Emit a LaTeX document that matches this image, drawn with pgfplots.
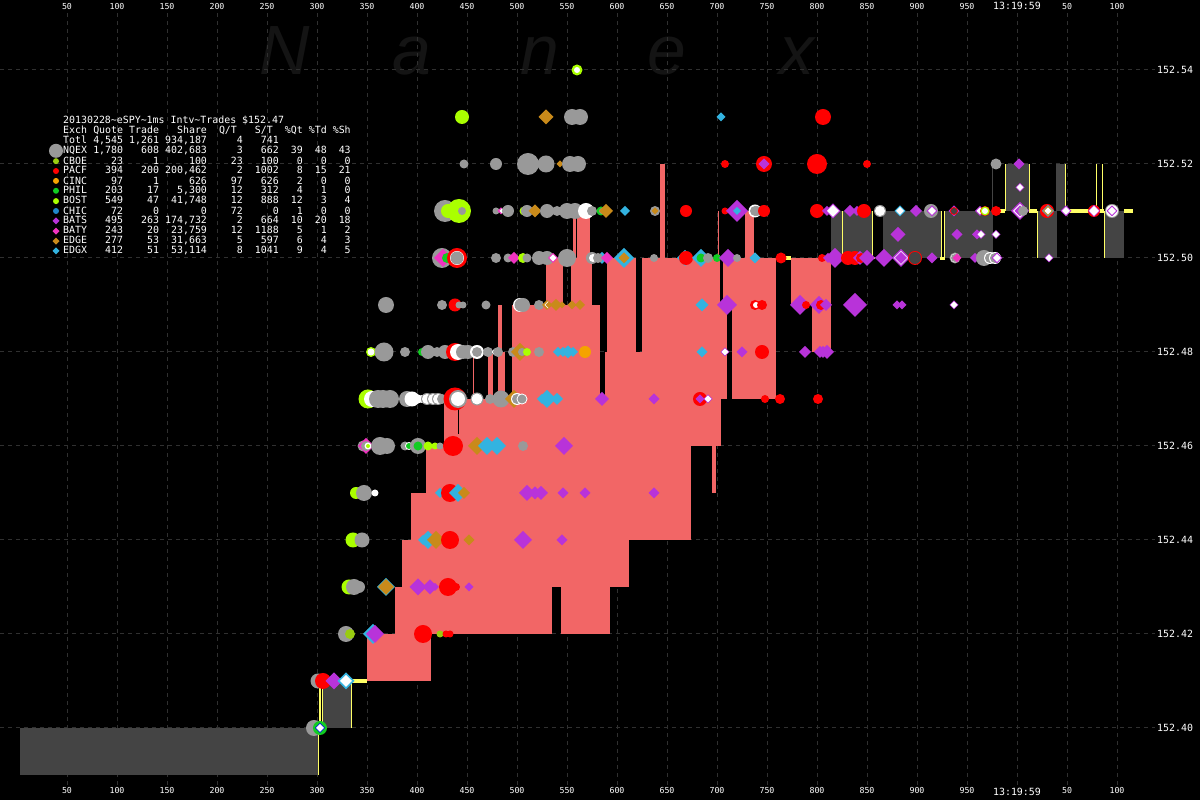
\documentclass[border=0pt]{standalone}
\usepackage{pgfplots}
\usepackage{fontspec}
\pgfplotsset{compat=1.18}
\setmainfont{DejaVu Sans Mono}
\newfontfamily\wm[ItalicFont={Liberation Sans Italic}]{Liberation Sans}
\definecolor{cgrid}{HTML}{303030}
\definecolor{cred}{HTML}{F26666}
\definecolor{cdark}{HTML}{444444}
\definecolor{cyel}{HTML}{FFFF66}
\definecolor{cwm}{HTML}{141414}
\definecolor{mgrey}{HTML}{999999}
\definecolor{mred}{HTML}{FF0000}
\definecolor{mlime}{HTML}{AAFF00}
\definecolor{mgreen}{HTML}{11CC22}
\definecolor{morange}{HTML}{F5A300}
\definecolor{molive}{HTML}{99CC11}
\definecolor{mblue}{HTML}{1F88CC}
\definecolor{mpurple}{HTML}{B833D9}
\definecolor{mmag}{HTML}{F033C0}
\definecolor{mbrown}{HTML}{C98A1A}
\definecolor{mcyan}{HTML}{33B3E0}
\pgfdeclareplotmark{dia}{\pgfpathmoveto{\pgfqpoint{0pt}{\pgfplotmarksize}}\pgfpathlineto{\pgfqpoint{\pgfplotmarksize}{0pt}}\pgfpathlineto{\pgfqpoint{0pt}{-\pgfplotmarksize}}\pgfpathlineto{\pgfqpoint{-\pgfplotmarksize}{0pt}}\pgfpathclose\pgfusepathqfill}
\pgfdeclareplotmark{cir}{\pgfpathcircle{\pgfpointorigin}{\pgfplotmarksize}\pgfusepathqfill}
\newcommand\Rbox[5]{\addplot[draw=none,fill=#5] coordinates {(#1,#3)(#2,#3)(#2,#4)(#1,#4)} --cycle;}
\newlength\cw \setlength\cw{5.99bp}
\newcommand\lrowA[5]{\makebox[4\cw][l]{#1}\makebox[6\cw][r]{#2}\makebox[6\cw][r]{#3}\makebox[8\cw][r]{#4}\makebox[6\cw][r]{#5}}
\newcommand\lrow[9]{\lrowA{#1}{#2}{#3}{#4}{#5}\makebox[6\cw][r]{#6}\makebox[4\cw][r]{#7}\makebox[4\cw][r]{#8}\makebox[4\cw][r]{#9}}
\newcommand\lnode[2]{\node[anchor=west,inner sep=0pt,text=white,font=\fontsize{9.95}{10}\selectfont] at (63bp,{(800-#1)*1bp}) {#2};}
\begin{document}
\begin{tikzpicture}
\path[use as bounding box,fill=black] (0bp,0bp) rectangle (1200bp,800bp);
\foreach \x/\l in {285/N,412/a,540/n,667/e,797/x}{
 \node[anchor=base,inner sep=0pt,text=cwm,font=\wm\itshape\fontsize{70}{70}\selectfont] at (\x bp,725bp) {\l};}
\begin{axis}[at={(0bp,15bp)},anchor=south west,scale only axis,width=1155bp,height=773bp,
 xmin=-17,xmax=1138,ymin=152.38787,ymax=152.55234,
 axis line style={draw=none},tick style={draw=none},major tick length=0pt,
 clip=true,
 grid=major,grid style={cgrid,line width=1bp,dash pattern=on 4bp off 4bp},
 xtick={50,100,150,200,250,300,350,400,450,500,550,600,650,700,750,800,850,900,950,1000,1050,1100},
 xticklabels={50,100,150,200,250,300,350,400,450,500,550,600,650,700,750,800,850,900,950,{\fontsize{9.95}{10}\selectfont 13:19:59},50,100},
 ytick={152.40,152.42,152.44,152.46,152.48,152.50,152.52,152.54},
 yticklabels={152.40,152.42,152.44,152.46,152.48,152.50,152.52,152.54},
 yticklabel pos=right,
 yticklabel style={font=\fontsize{9.95}{10}\selectfont,text=white,inner sep=0pt,xshift=2bp},
 xticklabel style={font=\fontsize{8.3}{9}\selectfont,text=white,inner sep=0pt,yshift=-2.5bp},
]
% red blocks: x1 x2 top bottom
\Rbox{350}{414}{152.42}{152.41}{cred}
\Rbox{378}{535}{152.43}{152.42}{cred}
\Rbox{544}{593}{152.43}{152.42}{cred}
\Rbox{385}{612}{152.44}{152.43}{cred}
\Rbox{394}{674}{152.45}{152.44}{cred}
\Rbox{409}{674}{152.46}{152.45}{cred}
\Rbox{695}{699}{152.46}{152.45}{cred}
\Rbox{427}{704}{152.47}{152.46}{cred}
\Rbox{471}{476}{152.4795}{152.47}{cred}
\Rbox{456}{456.8}{152.48}{152.47}{cred}
\Rbox{481}{488}{152.48}{152.47}{cred}
\Rbox{481}{485}{152.49}{152.48}{cred}
\Rbox{495}{583}{152.49}{152.47}{cred}
\Rbox{588}{710}{152.48}{152.47}{cred}
\Rbox{590}{619}{152.50}{152.48}{cred}
\Rbox{625}{710}{152.49}{152.48}{cred}
\Rbox{715}{759}{152.49}{152.47}{cred}
\Rbox{529}{546}{152.50}{152.49}{cred}
\Rbox{554}{575}{152.50}{152.49}{cred}
\Rbox{625}{703}{152.50}{152.49}{cred}
\Rbox{706}{759}{152.50}{152.49}{cred}
\Rbox{774}{814}{152.50}{152.49}{cred}
\Rbox{795}{814}{152.49}{152.48}{cred}
\Rbox{556}{559}{152.51}{152.50}{cred}
\Rbox{560}{573}{152.51}{152.50}{cred}
\Rbox{643}{648}{152.52}{152.50}{cred}
\Rbox{701}{702}{152.51}{152.50}{cred}
\Rbox{728}{737}{152.51}{152.50}{cred}
\Rbox{441}{441.8}{152.4695}{152.4625}{black}
% dark blocks
\Rbox{3}{301}{152.40}{152.39}{cdark}
\Rbox{305}{334}{152.41}{152.40}{cdark}
\Rbox{814}{855}{152.51}{152.50}{cdark}
\Rbox{866}{924}{152.51}{152.50}{cdark}
\Rbox{927}{976}{152.51}{152.50}{cdark}
\Rbox{975}{976}{152.52}{152.51}{cdark}
\Rbox{988}{1012}{152.52}{152.51}{cdark}
\Rbox{1020}{1040}{152.51}{152.50}{cdark}
\Rbox{1039}{1048}{152.52}{152.51}{cdark}
\Rbox{1087}{1107}{152.51}{152.50}{cdark}
% yellow lines and stubs
\Rbox{301}{301.8}{152.40}{152.39}{cyel}
\Rbox{302}{304}{152.41}{152.40}{cyel}
\Rbox{305}{305.8}{152.41}{152.40}{cyel}
\Rbox{334}{334.8}{152.41}{152.40}{cyel}
\Rbox{334}{350}{152.4104}{152.4096}{cyel}
\Rbox{769}{774}{152.5004}{152.4996}{cyel}
\Rbox{825}{825.8}{152.51}{152.50}{cyel}
\Rbox{855}{855.8}{152.51}{152.50}{cyel}
\Rbox{855}{858}{152.5003}{152.4997}{cyel}
\Rbox{924}{925}{152.51}{152.50}{cyel}
\Rbox{927}{928}{152.51}{152.50}{cyel}
\Rbox{923}{928}{152.5003}{152.4995}{cyel}
\Rbox{976}{988}{152.5105}{152.5095}{cyel}
\Rbox{988}{988.8}{152.52}{152.51}{cyel}
\Rbox{1012}{1012.8}{152.52}{152.51}{cyel}
\Rbox{1012}{1020}{152.5105}{152.5095}{cyel}
\Rbox{1020}{1020.8}{152.51}{152.50}{cyel}
\Rbox{1048}{1048.8}{152.52}{152.51}{cyel}
\Rbox{1048}{1087}{152.5105}{152.5095}{cyel}
\Rbox{1079}{1079.8}{152.52}{152.51}{cyel}
\Rbox{1085}{1085.8}{152.52}{152.51}{cyel}
\Rbox{1087}{1087.8}{152.51}{152.50}{cyel}
\Rbox{1107}{1116}{152.5105}{152.5095}{cyel}
% markers in drawing order
\addplot[scatter,only marks,scatter src=explicit symbolic,
 visualization depends on={\thisrow{r} \as \msize},
 scatter/classes={
  g={mark=cir,mgrey},r={mark=cir,mred},l={mark=cir,mlime},w={mark=cir,white},a={mark=cir,mgreen},
  o={mark=cir,morange},b={mark=cir,molive},u={mark=cir,mblue},k={mark=cir,cdark},
  P={mark=dia,mpurple},M={mark=dia,mmag},E={mark=dia,mbrown},C={mark=dia,mcyan},W={mark=dia,white},B={mark=dia,blue}},
 scatter/@pre marker code/.append style={/tikz/mark size=\msize bp}]
 table[x=x,y=y,meta=c]{
x y r c
39 152.5228 7 g
39 152.5206 3 b
39 152.5185 3 r
39 152.5164 3 o
39 152.5143 3 a
39 152.5121 3 l
39 152.5100 3 u
39 152.5079 3.5 P
39 152.5057 3.5 M
39 152.5036 3.5 E
39 152.5015 3.5 C
560 152.54 5.5 l
560 152.54 3 w
445 152.53 7 l
529 152.53 7.5 E
554 152.53 3 E
555 152.53 8 g
563 152.53 8 g
704 152.53 4.5 C
806 152.53 8 r
447 152.52 4.5 g
479 152.52 6 g
511 152.52 11 g
529 152.52 8.5 g
543 152.52 3.5 E
553 152.52 8 g
561 152.52 8 g
708 152.52 4 r
747 152.52 8 r
747 152.52 5.5 P
800 152.52 10 r
850 152.52 4 r
979 152.52 5.5 g
1002 152.52 5.5 P
1003 152.515 4.5 P
1003 152.515 3.5 W
428 152.51 11 g
431 152.51 7 l
442 152.51 12 l
445 152.51 4 g
479 152.51 3.5 g
484 152.51 3.5 M
485 152.51 2.5 W
491 152.51 6 g
507 152.51 4.5 l
510 152.51 6 g
518 152.51 6.5 E
530 152.51 7 g
540 152.51 5 g
550 152.51 8 g
558 152.51 8 g
569 152.51 8 w
575 152.51 5 g
584 152.51 4.5 a
585 152.51 3 g
589 152.51 7 E
608 152.51 5 C
638 152.51 5 g
638 152.51 3.5 E
669 152.51 6 r
708 152.51 3.5 r
720 152.51 11 P
720 152.51 4 C
738 152.51 6.5 w
738 152.51 5 g
740 152.51 5 g
747 152.51 6 r
800 152.51 7 r
810 152.51 5 P
816 152.51 7.5 P
816 152.51 6 W
833 152.51 6 P
840 152.51 5 P
847 152.51 7 r
863 152.51 6 g
863 152.51 5 w
883 152.51 5.5 C
883 152.51 4 W
899 152.51 6 P
914 152.51 7 g
915 152.51 5.5 P
915 152.51 4 W
937 152.51 5.5 P
937 152.51 4 r
937 152.51 3 k
963 152.51 5 P
963 152.51 3.5 W
968 152.51 5 r
968 152.51 4.5 l
968 152.51 3 w
979 152.51 5 r
1003 152.51 9 P
1003 152.51 7 W
1003 152.51 5.5 P
1006 152.51 5 g
1030 152.51 7 r
1031 152.51 6 C
1031 152.51 5 E
1031 152.51 3.5 W
1049 152.51 5.5 P
1049 152.51 4 W
1077 152.51 6 r
1077 152.51 6 P
1077 152.51 5 W
1095 152.51 7 g
1095 152.51 6 w
1095 152.51 5.5 P
1095 152.51 4 W
881 152.505 7.5 P
940 152.505 5.5 P
960 152.505 5 P
964 152.505 4.5 P
964 152.505 3.5 W
979 152.505 4.5 P
979 152.505 3.5 W
425 152.50 10 g
426 152.50 9 M
430 152.50 5 a
440 152.50 10 r
440 152.50 7 w
440 152.50 6.5 g
479 152.50 5 g
491 152.50 4.5 g
497 152.50 6 M
506 152.50 5 l
510 152.50 4.5 g
522 152.50 7 g
530 152.50 7 g
536 152.50 5 M
536 152.50 3.5 W
550 152.50 9 g
575 152.50 6 g
576 152.50 4 w
585 152.50 6 C
581 152.50 5 g
590 152.50 6 M
607 152.50 10 C
607 152.50 5.5 E
637 152.50 4 g
668 152.50 8 C
669 152.50 7 r
684 152.50 9 C
684 152.50 4.5 a
691 152.50 5 g
700 152.50 4 a
711 152.50 9 P
720 152.50 4 g
738 152.50 5.5 C
764 152.50 5.5 r
805 152.50 4 r
811 152.50 5 P
818 152.50 10 P
831 152.50 7 r
838 152.50 7 r
843 152.50 7 P
843 152.50 3 W
844 152.50 5 r
850 152.50 8 P
867 152.50 9 P
884 152.50 9 P
884 152.50 7 W
884 152.50 6 P
898 152.50 7 r
898 152.50 6 k
915 152.50 5.5 P
938 152.50 5.5 g
938 152.50 4.5 w
938 152.50 4 g
940 152.50 4.5 M
958 152.50 5 P
967 152.50 8 g
973 152.50 6 w
973 152.50 5 g
978 152.50 6 w
978 152.50 5 g
980 152.50 5.5 P
980 152.50 4 W
1032 152.50 4.5 P
1032 152.50 3.5 W
369 152.49 8 g
425 152.49 5 g
438 152.49 6.5 r
442 152.49 3.5 g
446 152.49 3.5 g
469 152.49 4.5 g
503 152.49 7 w
504 152.49 6.5 g
506 152.49 7 g
522 152.49 5 g
530 152.49 5 E
531 152.49 3.5 W
532 152.49 3.5 E
539 152.49 6 E
545 152.49 3.5 E
555 152.49 4.5 E
563 152.49 5 E
685 152.49 6.5 C
710 152.49 10 P
738 152.49 5 r
739 152.49 3 w
745 152.49 5 r
783 152.49 10 P
789 152.49 4 r
802 152.49 9 P
804 152.49 5 r
809 152.49 6 P
838 152.49 12 P
880 152.49 4.5 P
885 152.49 4.5 P
937 152.49 4.5 P
937 152.49 3.5 W
354 152.48 5 l
354 152.48 3.5 w
367 152.48 9.5 g
388 152.48 5 g
405 152.48 4 a
411 152.48 7 g
420 152.48 5 g
428 152.48 7 g
438 152.48 9 r
441 152.48 8 w
446 152.48 7 g
451 152.48 7 g
460 152.48 7 w
460 152.48 5 g
471 152.48 5 g
478 152.48 3 w
481 152.48 5 g
496 152.48 5 g
503 152.48 9 E
505 152.48 4 g
510 152.48 4 l
522 152.48 5 g
541 152.48 5 C
546 152.48 5 C
551 152.48 6.5 C
556 152.48 5 C
568 152.48 6 o
685 152.48 5.5 C
708 152.48 4.5 P
708 152.48 3.5 W
725 152.48 5.5 P
745 152.48 7 r
788 152.48 6 P
803 152.48 6 P
806 152.48 6 P
810 152.48 7 P
351 152.47 9.5 l
355 152.47 8 w
361 152.47 9 g
366 152.47 9 g
373 152.47 9 g
390 152.47 8 g
395 152.47 7.5 w
396 152.47 6 w
400 152.47 5 w
405 152.47 4 w
410 152.47 6 g
410 152.47 5 w
416 152.47 6 g
416 152.47 5 w
421 152.47 6 g
421 152.47 5 w
425 152.47 5 g
438 152.47 11.5 r
441 152.47 9 g
441 152.47 7 w
460 152.47 6.5 g
460 152.47 5.5 w
473 152.47 5 g
484 152.47 8.5 g
497 152.47 9 E
500 152.47 6 w
500 152.47 5 g
505 152.47 5.5 w
505 152.47 4.5 g
525 152.47 5 C
530 152.47 9 C
540 152.47 6 C
585 152.47 7 P
637 152.47 5.5 P
683 152.47 7 r
683 152.47 4.5 P
691 152.47 4.5 P
691 152.47 3.5 W
748 152.47 4 r
763 152.47 5 r
801 152.47 5 r
346 152.46 5.5 g
349 152.46 8 M
349 152.46 5 g
351 152.46 3.5 w
351 152.46 2 l
363 152.46 9 g
370 152.46 8 g
388 152.46 4.5 g
392 152.46 4 w
392 152.46 3 a
401 152.46 8 g
401 152.46 4.5 a
411 152.46 4.5 l
418 152.46 3.5 l
423 152.46 3.5 g
436 152.46 10 r
460 152.46 9 E
470 152.46 9 C
480 152.46 9 C
506 152.46 5 g
547 152.46 9 P
339 152.45 6 l
347 152.45 8 g
358 152.45 3.5 w
423 152.45 5 C
433 152.45 9 r
441 152.45 9 C
447 152.45 6 E
510 152.45 8 P
518 152.45 6.5 P
524 152.45 7 P
546 152.45 5.5 P
568 152.45 5.5 P
637 152.45 5.5 P
336 152.44 7.5 l
345 152.44 7.5 g
406 152.44 5 C
411 152.44 9 C
419 152.44 9 E
433 152.44 9 r
452 152.44 5.5 E
506 152.44 9 P
545 152.44 5.5 P
332 152.43 7.5 l
337 152.43 8 g
342 152.43 6 g
369 152.43 9 C
369 152.43 8 E
401 152.43 8.5 P
413 152.43 7.5 P
418 152.43 4 P
431 152.43 9 r
439 152.43 4 r
452 152.43 4.5 P
329 152.42 8 g
333 152.42 5 b
356 152.42 10 C
358 152.42 9 P
406 152.42 9 r
423 152.42 3.5 b
429 152.42 3.5 r
433 152.42 3.5 r
301 152.41 7.5 g
306 152.41 8 r
317 152.41 8.5 P
329 152.41 8.5 C
329 152.41 6 W
297 152.40 8 g
303 152.40 7 a
303 152.40 5 B
303 152.40 4 W
};
\end{axis}
\begin{axis}[at={(0bp,15bp)},anchor=south west,scale only axis,width=1155bp,height=773bp,
 xmin=-17,xmax=1138,ymin=0,ymax=1,axis line style={draw=none},tick style={draw=none},major tick length=0pt,
 xtick={50,100,150,200,250,300,350,400,450,500,550,600,650,700,750,800,850,900,950,1000,1050,1100},
 xticklabels={50,100,150,200,250,300,350,400,450,500,550,600,650,700,750,800,850,900,950,{\fontsize{9.95}{10}\selectfont 13:19:59},50,100},
 ytick=\empty,xticklabel pos=upper,
 xticklabel style={font=\fontsize{8.3}{9}\selectfont,text=white,inner sep=0pt,yshift=2.5bp}]
\end{axis}
\lnode{120.7}{20130228\textasciitilde eSPY\textasciitilde 1ms Intv\textasciitilde Trades \$152.47}
\lnode{130.7}{\lrow{Exch}{Quote}{Trade}{Share}{Q/T~}{S/T~}{\%Qt}{\%Td}{\%Sh}}
\lnode{140.7}{\lrow{Totl}{4,545}{1,261}{934,187}{4}{741}{}{}{}}
\lnode{150.7}{\lrow{NQEX}{1,780}{608}{402,683}{3}{662}{39}{48}{43}}
\lnode{160.7}{\lrow{CBOE}{23}{1}{100}{23}{100}{0}{0}{0}}
\lnode{170.7}{\lrow{PACF}{394}{200}{200,462}{2}{1002}{8}{15}{21}}
\lnode{180.7}{\lrow{CINC}{97}{1}{626}{97}{626}{2}{0}{0}}
\lnode{190.7}{\lrow{PHIL}{203}{17}{5,300}{12}{312}{4}{1}{0}}
\lnode{200.7}{\lrow{BOST}{549}{47}{41,748}{12}{888}{12}{3}{4}}
\lnode{210.7}{\lrow{CHIC}{72}{0}{0}{72}{0}{1}{0}{0}}
\lnode{220.7}{\lrow{BATS}{495}{263}{174,732}{2}{664}{10}{20}{18}}
\lnode{230.7}{\lrow{BATY}{243}{20}{23,759}{12}{1188}{5}{1}{2}}
\lnode{240.7}{\lrow{EDGE}{277}{53}{31,663}{5}{597}{6}{4}{3}}
\lnode{250.7}{\lrow{EDGX}{412}{51}{53,114}{8}{1041}{9}{4}{5}}
\end{tikzpicture}
\end{document}
